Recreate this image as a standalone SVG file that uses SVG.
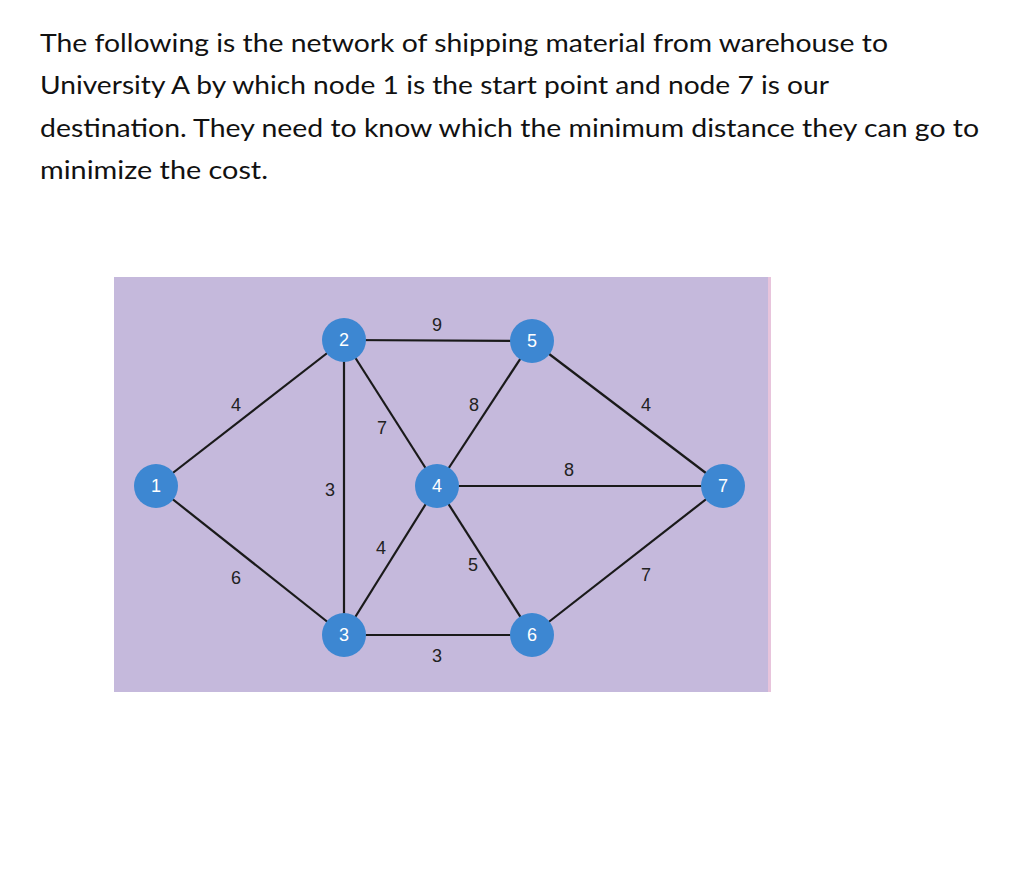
<svg xmlns="http://www.w3.org/2000/svg" width="1024" height="869" viewBox="0 0 1024 869">
<style>
.h{font-family:Lato,"Open Sans",sans-serif;font-size:25px;fill:#111}
.e{stroke:#1a1a1a;stroke-width:2.2}
.n circle{fill:#3d87d2}
.n text{font-family:"Liberation Sans",Arial,sans-serif;font-size:18px;fill:#fff;text-anchor:middle}
.w{font-family:"Liberation Sans",Arial,sans-serif;font-size:18px;fill:#222;text-anchor:middle}
</style>
<rect width="1024" height="869" fill="#fff"/>
<text class="h" x="40" y="52" textLength="848" lengthAdjust="spacingAndGlyphs">The following is the network of shipping material from warehouse to</text>
<text class="h" x="40" y="94" textLength="789" lengthAdjust="spacingAndGlyphs">University A by which node 1 is the start point and node 7 is our</text>
<text class="h" x="40" y="137" textLength="939" lengthAdjust="spacingAndGlyphs">destination. They need to know which the minimum distance they can go to</text>
<text class="h" x="40" y="179" textLength="228" lengthAdjust="spacingAndGlyphs">minimize the cost.</text>
<rect x="114" y="277" width="656" height="415" fill="#c5b9dc"/>
<rect x="768" y="277" width="3" height="415" fill="#e8c4dc"/>
<g id="edges">
<line class="e" x1="156" y1="486" x2="344" y2="340"/>
<line class="e" x1="156" y1="486" x2="344" y2="635"/>
<line class="e" x1="344" y1="340" x2="532" y2="341"/>
<line class="e" x1="344" y1="340" x2="344" y2="635"/>
<line class="e" x1="344" y1="340" x2="437" y2="486"/>
<line class="e" x1="532" y1="341" x2="437" y2="486"/>
<line class="e" x1="532" y1="341" x2="723" y2="486"/>
<line class="e" x1="437" y1="486" x2="723" y2="486"/>
<line class="e" x1="437" y1="486" x2="344" y2="635"/>
<line class="e" x1="437" y1="486" x2="532" y2="635"/>
<line class="e" x1="344" y1="635" x2="532" y2="635"/>
<line class="e" x1="532" y1="635" x2="723" y2="486"/>
<text class="w" x="236" y="411">4</text>
<text class="w" x="437" y="331">9</text>
<text class="w" x="474" y="411">8</text>
<text class="w" x="382" y="434">7</text>
<text class="w" x="646" y="411">4</text>
<text class="w" x="330" y="496">3</text>
<text class="w" x="569" y="476">8</text>
<text class="w" x="381" y="554">4</text>
<text class="w" x="473" y="571">5</text>
<text class="w" x="236" y="584">6</text>
<text class="w" x="646" y="581">7</text>
<text class="w" x="437" y="662">3</text>
</g>
<g id="n1" class="n"><circle cx="156" cy="486" r="22"/><text x="156" y="492">1</text></g>
<g id="n2" class="n"><circle cx="344" cy="340" r="22"/><text x="344" y="346">2</text></g>
<g id="n3" class="n"><circle cx="344" cy="635" r="22"/><text x="344" y="641">3</text></g>
<g id="n4" class="n"><circle cx="437" cy="486" r="22"/><text x="437" y="492">4</text></g>
<g id="n5" class="n"><circle cx="532" cy="341" r="22"/><text x="532" y="347">5</text></g>
<g id="n6" class="n"><circle cx="532" cy="635" r="22"/><text x="532" y="641">6</text></g>
<g id="n7" class="n"><circle cx="723" cy="486" r="22"/><text x="723" y="492">7</text></g>
</svg>
